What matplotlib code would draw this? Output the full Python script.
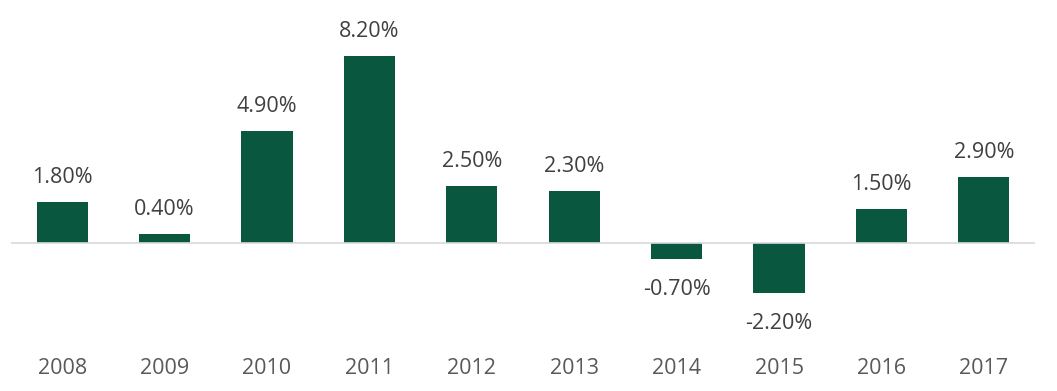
import numpy as np
import matplotlib.pyplot as plt

# data
years = ['2008', '2009', '2010', '2011', '2012', '2013', '2014', '2015', '2016', '2017']
growth = [1.8, 0.4, 4.9, 8.2, 2.5, 2.3, -0.7, -2.2, 1.5, 2.9]

plt.rcParams['font.family'] = ['Open Sans', 'DejaVu Sans']

fig = plt.figure(figsize=(10.57, 3.91), dpi=100)
ax = fig.add_axes([11 / 1057, 0.174, 1024 / 1057, 0.7586])

x = np.arange(len(years))
ax.bar(x, growth, width=0.5, color='#0a5740')
ax.axhline(0, color='#d9d9d9', lw=1.2)

for xi, v in zip(x, growth):
    if v >= 0:
        ax.annotate(f'{v:.2f}%', (xi, v), xytext=(0, 10), textcoords='offset points',
                    ha='center', va='bottom', fontsize=15.5, color='#404040')
    else:
        ax.annotate(f'{v:.2f}%', (xi, v), xytext=(0, -14), textcoords='offset points',
                    ha='center', va='top', fontsize=15.5, color='#404040')

ax.set_xlim(-0.5, len(years) - 0.5)
ax.set_ylim(-3.5, 9.5)
ax.set_xticks(x)
ax.set_xticklabels(years, fontsize=15.5, color='#595959')
ax.tick_params(axis='x', length=0, pad=25.5)
ax.set_yticks([])
for s in ax.spines.values():
    s.set_visible(False)

fig.savefig('out.png', dpi=100)
